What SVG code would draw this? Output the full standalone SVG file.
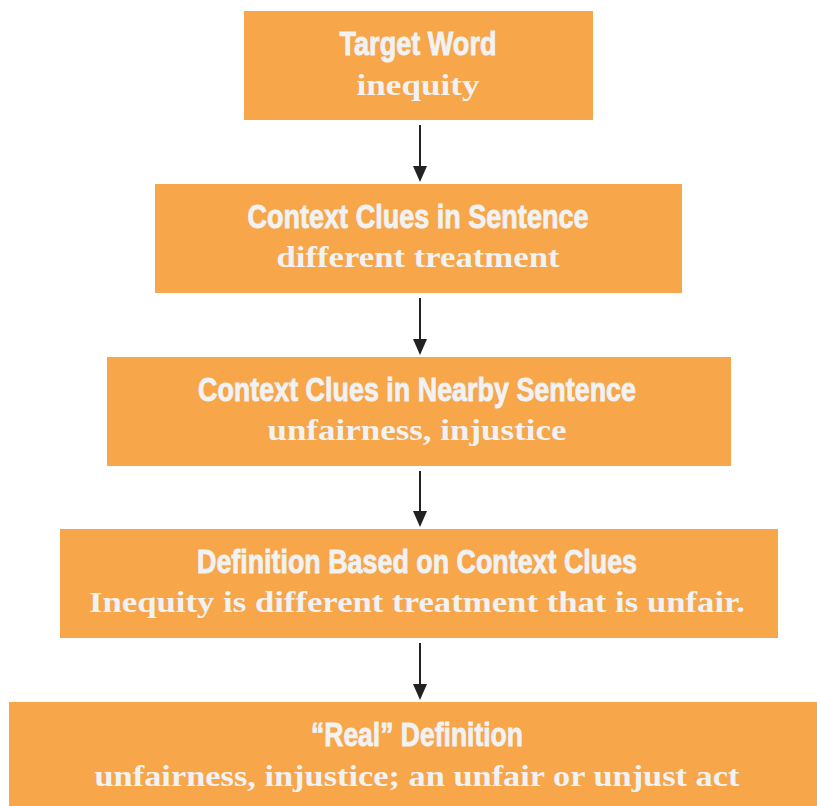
<svg xmlns="http://www.w3.org/2000/svg" width="817" height="806" viewBox="0 0 817 806">
<defs>
<style>
.box{fill:#F7A64A;}
.h{font-family:"Liberation Sans",Arial,sans-serif;font-weight:bold;font-size:34px;fill:#F1F2F4;stroke:#F1F2F4;stroke-width:0.9;text-anchor:middle;}
.s{font-family:"Liberation Serif","Times New Roman",serif;font-weight:bold;font-size:30px;fill:#F1F2F4;text-anchor:middle;}
.c{stroke:#222;stroke-width:2;fill:none;}
</style>
<marker id="ah" markerWidth="8" markerHeight="7" refX="7" refY="3.5" orient="auto" markerUnits="strokeWidth">
<path d="M0,0 L8,3.5 L0,7 Z" fill="#222"/>
</marker>
</defs>
<rect width="817" height="806" fill="#FFFFFF"/>
<g id="connectors">
<line class="c" x1="420" y1="125" x2="420" y2="180" marker-end="url(#ah)"/>
<line class="c" x1="420" y1="298" x2="420" y2="353" marker-end="url(#ah)"/>
<line class="c" x1="420" y1="471" x2="420" y2="525" marker-end="url(#ah)"/>
<line class="c" x1="420" y1="643" x2="420" y2="698" marker-end="url(#ah)"/>
</g>
<g id="n1">
<rect class="box" x="244" y="11" width="349" height="109"/>
<text class="h" x="418" y="55" textLength="157" lengthAdjust="spacingAndGlyphs">Target Word</text>
<text class="s" x="418" y="95" textLength="123" lengthAdjust="spacingAndGlyphs">inequity</text>
</g>
<g id="n2">
<rect class="box" x="155" y="184" width="527" height="109"/>
<text class="h" x="418" y="228" textLength="341" lengthAdjust="spacingAndGlyphs">Context Clues in Sentence</text>
<text class="s" x="418" y="267" textLength="283" lengthAdjust="spacingAndGlyphs">different treatment</text>
</g>
<g id="n3">
<rect class="box" x="107" y="357" width="624" height="109"/>
<text class="h" x="417" y="401" textLength="438" lengthAdjust="spacingAndGlyphs">Context Clues in Nearby Sentence</text>
<text class="s" x="417" y="440" textLength="299" lengthAdjust="spacingAndGlyphs">unfairness, injustice</text>
</g>
<g id="n4">
<rect class="box" x="60" y="529" width="718" height="109"/>
<text class="h" x="417" y="573" textLength="440" lengthAdjust="spacingAndGlyphs">Definition Based on Context Clues</text>
<text class="s" x="417" y="612" textLength="656" lengthAdjust="spacingAndGlyphs">Inequity is different treatment that is unfair.</text>
</g>
<g id="n5">
<rect class="box" x="9" y="702" width="808" height="104"/>
<text class="h" x="417" y="746" textLength="212" lengthAdjust="spacingAndGlyphs">“Real” Definition</text>
<text class="s" x="417" y="786" textLength="645" lengthAdjust="spacingAndGlyphs">unfairness, injustice; an unfair or unjust act</text>
</g>
</svg>
